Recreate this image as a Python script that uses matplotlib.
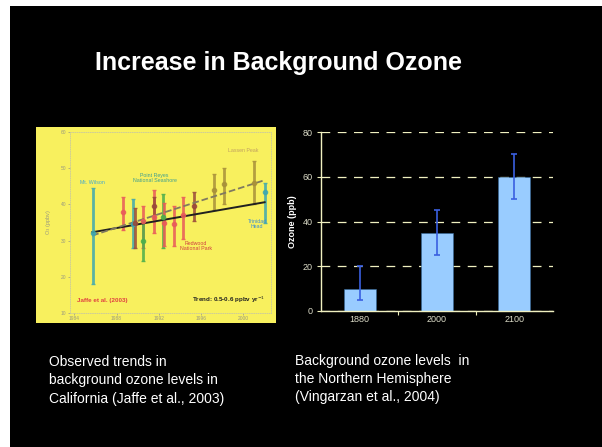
import numpy as np
import matplotlib.pyplot as plt
from matplotlib.patches import Rectangle

plt.rcParams['font.family'] = ['Liberation Sans', 'DejaVu Sans']

# right chart: background ozone (Vingarzan et al., 2004)
bar_years = ['1880', '2000', '2100']
bar_ozone = [10, 35, 60]
bar_err_low = [5, 10, 10]
bar_err_high = [10, 10, 10]

# left chart: observed trends (Jaffe et al., 2003)
site_year = [1985.8, 1988.6, 1989.6, 1989.7, 1990.5, 1990.5, 1991.5, 1991.5, 1992.4,
             1992.5, 1993.4, 1994.3, 1995.3, 1997.2, 1998.2, 2001.0, 2002.0]
site_o3 = [32, 38, 34.5, 35, 35.5, 30, 36.5, 39.5, 36.5,
           35, 34.5, 37, 39.5, 44, 45.5, 46, 43.5]
site_low = [18, 33, 28, 28, 28, 24.5, 32, 36, 28,
            28.5, 28.5, 30.5, 35.5, 38.5, 40, 40, 35]
site_high = [44.5, 42, 41.5, 39, 39.5, 35.5, 44, 42, 43,
             40.5, 39.5, 42, 43.5, 48.5, 50, 52, 46]
site_color = ['#3fa8b0', '#e85a5a', '#3fa8b0', '#9a4a3a', '#e85a5a', '#4cae4c', '#e85a5a',
              '#9a4a3a', '#4cae4c', '#e85a5a', '#e85a5a', '#e85a5a', '#9a4a3a',
              '#a8903a', '#a8903a', '#a8903a', '#3fa8b0']
trend_years = [1985.7, 2002.0]
trend_solid = [32.3, 40.6]
trend_dashed = [31.4, 46.7]

fig = plt.figure(figsize=(6.02, 4.47), dpi=100)
fig.patch.set_facecolor('white')
fig.patches.append(Rectangle((10 / 602, 0), 1, 441 / 447, transform=fig.transFigure,
                             facecolor='black', edgecolor='none', zorder=-10))

fig.text(0.462, 0.859, 'Increase in Background Ozone', color='white', fontsize=18,
         fontweight='bold', ha='center', va='center')

# ---- left "image" ----
frame = fig.add_axes([36 / 602, 1 - 323 / 447, 240 / 602, 196 / 447])
frame.set_facecolor('#f8f05e')
frame.set_xticks([])
frame.set_yticks([])
for s in frame.spines.values():
    s.set_visible(False)

ax1 = fig.add_axes([70 / 602, 1 - 313 / 447, 201 / 602, 181 / 447])
ax1.patch.set_alpha(0)
for yr, o, lo, hi, c in zip(site_year, site_o3, site_low, site_high, site_color):
    ax1.errorbar([yr], [o], yerr=[[o - lo], [hi - o]], fmt='o', color=c, ms=3,
                 elinewidth=2.0, capsize=1.5, alpha=0.85)
ax1.plot(trend_years, trend_solid, color='#202020', lw=1.4)
ax1.plot(trend_years, trend_dashed, color='#807a60', lw=1.3, ls='--')
ax1.set_xlim(1983.6, 2002.6)
ax1.set_ylim(10, 60)
ax1.set_xticks([1984, 1988, 1992, 1996, 2000])
ax1.set_yticks([10, 20, 30, 40, 50, 60])
ax1.tick_params(labelsize=3.5, colors='#9a9a80', length=1.5, width=0.5, pad=1)
for s in ax1.spines.values():
    s.set_color('#c8c8a0')
    s.set_linewidth(0.6)
    s.set_linestyle(':')
ax1.set_ylabel('O$_3$ (ppbv)', fontsize=4, color='#9a9a80', labelpad=6)
ax1.text(1984.5, 45.5, 'Mt. Wilson', color='#3fa8d0', fontsize=3.8)
ax1.text(1991.6, 46.2, 'Point Reyes\nNational Seashore', color='#3f9f8f', fontsize=3.8,
         ha='center', linespacing=0.9)
ax1.text(1995.5, 27.5, 'Redwood\nNational Park', color='#d04040', fontsize=3.8,
         ha='center', linespacing=0.9)
ax1.text(2000.0, 54.6, 'Lassen Peak', color='#c0a060', fontsize=3.8, ha='center')
ax1.text(2001.3, 33.5, 'Trinidad\nHead', color='#3f90d0', fontsize=3.8, ha='center',
         linespacing=0.9)
ax1.text(1984.3, 13.0, 'Jaffe et al. (2003)', color='#e04040', fontsize=4.5,
         fontweight='bold')
ax1.text(2002.0, 13.0, 'Trend: 0.5-0.6 ppbv yr$^{-1}$', color='#202020', fontsize=4.5,
         fontweight='bold', ha='right')

# ---- right bar chart ----
ax2 = fig.add_axes([321 / 602, 1 - 311 / 447, 232 / 602, 179 / 447])
ax2.set_facecolor('black')
x = np.arange(len(bar_years))
ax2.bar(x, bar_ozone, width=0.41, color='#99ccff', edgecolor='#336699', lw=0.4,
        zorder=2)
ax2.errorbar(x, bar_ozone, yerr=[bar_err_low, bar_err_high], fmt='none',
             ecolor='#3a5fe0', elinewidth=1.2, capsize=2.5, capthick=1.2, zorder=3)
ax2.set_xlim(-0.5, 2.5)
ax2.set_ylim(0, 80)
ax2.set_yticks([0, 20, 40, 60, 80])
ax2.set_xticks(x)
ax2.set_xticklabels(bar_years)
ax2.set_xticks([0.5, 1.5], minor=True)
ax2.tick_params(axis='x', which='major', length=0)
ax2.tick_params(axis='x', which='minor', length=3, color='#eeeebb', width=0.8)
ax2.tick_params(axis='y', length=3, color='#eeeebb', width=0.8)
ax2.tick_params(labelsize=6.5, labelcolor='#dcdcc8', pad=3)
ax2.yaxis.grid(True, color='#f0f0c0', ls=(0, (7, 6)), lw=0.9, zorder=1)
ax2.set_axisbelow(True)
for side in ['top', 'right']:
    ax2.spines[side].set_visible(False)
for side in ['left', 'bottom']:
    ax2.spines[side].set_color('#f0f0c0')
    ax2.spines[side].set_linewidth(1.0)
ax2.set_ylabel('Ozone (ppb)', fontsize=6.5, fontweight='bold', color='white', labelpad=4)

# captions
fig.text(49 / 602, 1 - 355 / 447,
         'Observed trends in\nbackground ozone levels in\nCalifornia (Jaffe et al., 2003)',
         color='white', fontsize=10, ha='left', va='top', linespacing=1.4)
fig.text(295 / 602, 1 - 354 / 447,
         'Background ozone levels  in\nthe Northern Hemisphere\n(Vingarzan et al., 2004)',
         color='white', fontsize=10, ha='left', va='top', linespacing=1.35)

fig.savefig('out.png', dpi=100, facecolor=fig.get_facecolor())
